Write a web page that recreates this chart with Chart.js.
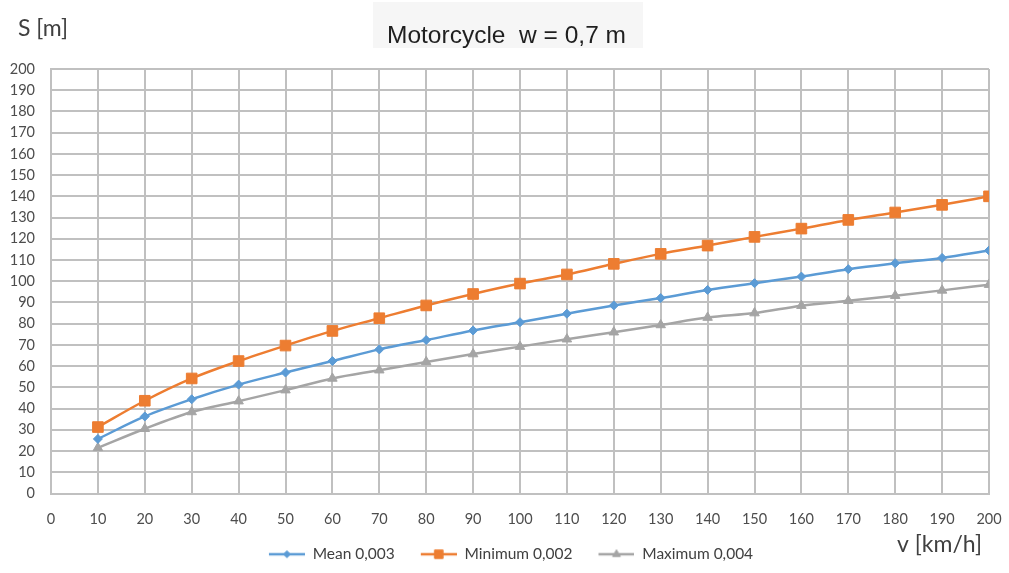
<!DOCTYPE html>
<html>
<head>
<meta charset="utf-8">
<title>Motorcycle w = 0,7 m</title>
<script src="https://cdn.jsdelivr.net/npm/chart.js@4/dist/chart.umd.min.js"></script>
<style>
  html, body { margin: 0; padding: 0; background: #ffffff; }
  #wrap { width: 1009px; height: 573px; position: relative; }
</style>
</head>
<body>
<div id="wrap"><canvas id="chart" width="1009" height="573"></canvas></div>
<script>
// Stopping distance S [m] against speed v [km/h]
const speeds = [10, 20, 30, 40, 50, 60, 70, 80, 90, 100, 110, 120, 130, 140, 150, 160, 170, 180, 190, 200];
const meanValues = [25.7, 36.3, 44.4, 51.3, 57.0, 62.4, 67.9, 72.3, 76.8, 80.7, 84.7, 88.6, 92.1, 95.9, 99.1, 102.2, 105.7, 108.5, 111.0, 114.5];
const minimumValues = [31.3, 43.7, 54.2, 62.4, 69.7, 76.6, 82.6, 88.6, 94.0, 98.9, 103.2, 108.2, 112.9, 116.8, 120.9, 124.8, 128.9, 132.4, 136.0, 140.0];
const maximumValues = [21.5, 30.5, 38.4, 43.5, 48.7, 54.2, 58.1, 62.0, 65.7, 69.2, 72.7, 76.0, 79.4, 82.9, 85.0, 88.5, 90.8, 93.2, 95.7, 98.4];
const seriesNames = ['Mean 0,003', 'Minimum 0,002', 'Maximum 0,004'];
const titleText = 'Motorcycle  w = 0,7 m';
const yAxisLabel = 'S [m]';
const xAxisLabel = 'v [km/h]';

const TICK_FONT = { family: 'Lato, "Liberation Sans", sans-serif', size: 14.5 };
const LABEL_COLOR = '#4d4d4d';
const GRID_COLOR = '#c0c0c0';

function toPoints(values) {
  return values.map((v, i) => ({ x: speeds[i], y: v }));
}

// Line-with-marker swatch for the legend; blank strip on the left widens item spacing
const SWATCH_GAP = 9;
const SWATCH_LINE = 36;
function legendSwatch(color, style, radius) {
  const c = document.createElement('canvas');
  c.width = SWATCH_GAP + SWATCH_LINE; c.height = 16;
  const ctx = c.getContext('2d');
  ctx.strokeStyle = color;
  ctx.lineWidth = 2.5;
  ctx.beginPath();
  ctx.moveTo(SWATCH_GAP, 8);
  ctx.lineTo(SWATCH_GAP + SWATCH_LINE, 8);
  ctx.stroke();
  ctx.fillStyle = color;
  ctx.strokeStyle = color;
  ctx.lineWidth = 1;
  Chart.helpers.drawPoint(ctx, { pointStyle: style, radius: radius, rotation: 0, borderWidth: 1 }, SWATCH_GAP + SWATCH_LINE / 2, 8);
  return c;
}

const seriesStyles = [
  { color: '#5b9bd5', point: 'rectRot', radius: 4.5, legendRadius: 3.5 },
  { color: '#ed7d31', point: 'rect', radius: 7.5, legendRadius: 6 },
  { color: '#a5a5a5', point: 'triangle', radius: 5.5, legendRadius: 4.5 }
];
const seriesValues = [meanValues, minimumValues, maximumValues];

const datasets = seriesValues.map((vals, i) => ({
  label: seriesNames[i],
  data: toPoints(vals),
  borderColor: seriesStyles[i].color,
  backgroundColor: seriesStyles[i].color,
  borderWidth: 2.5,
  pointStyle: seriesStyles[i].point,
  pointRadius: seriesStyles[i].radius,
  pointBorderWidth: 1,
  pointBackgroundColor: seriesStyles[i].color,
  pointBorderColor: seriesStyles[i].color,
  cubicInterpolationMode: 'monotone',
  fill: false
}));

// Title panel shading, the two axis captions, and a nudge that centres
// the title and legend a little right of the canvas middle
const decorations = {
  id: 'decorations',
  afterLayout(chart) {
    if (chart.titleBlock) { chart.titleBlock.left += 12; chart.titleBlock.right += 12; }
    if (chart.legend) { chart.legend.left += 12; chart.legend.right += 12; }
  },
  beforeDraw(chart) {
    const ctx = chart.ctx;
    ctx.save();
    ctx.fillStyle = '#f6f6f6';
    ctx.fillRect(373, 2, 270, 46);
    ctx.restore();
  },
  afterDraw(chart) {
    const ctx = chart.ctx;
    ctx.save();
    ctx.fillStyle = '#404040';
    ctx.font = '23px Lato, "Liberation Sans", sans-serif';
    ctx.textBaseline = 'middle';
    ctx.textAlign = 'left';
    ctx.fillText(yAxisLabel, 18, 29);
    ctx.textAlign = 'right';
    ctx.fillText(xAxisLabel, 982, 545);
    ctx.restore();
  }
};

new Chart(document.getElementById('chart'), {
  type: 'line',
  data: { datasets: datasets },
  plugins: [decorations],
  options: {
    responsive: false,
    animation: false,
    devicePixelRatio: 1,
    layout: { padding: { left: 0, right: 20, top: 0, bottom: 1 } },
    plugins: {
      title: {
        display: true,
        text: titleText,
        color: '#1f1f1f',
        font: { family: '"Liberation Sans", Arial, sans-serif', size: 24.5, weight: 'normal' },
        padding: { top: 22, bottom: 17.6 }
      },
      legend: {
        display: true,
        position: 'bottom',
        labels: {
          color: '#404040',
          font: { family: 'Lato, "Liberation Sans", sans-serif', size: 15.5 },
          usePointStyle: true,
          pointStyleWidth: SWATCH_GAP + SWATCH_LINE,
          padding: 17,
          generateLabels(chart) {
            return chart.data.datasets.map((ds, i) => ({
              text: ds.label,
              fillStyle: ds.borderColor,
              strokeStyle: ds.borderColor,
              fontColor: '#404040',
              lineWidth: 0,
              pointStyle: legendSwatch(ds.borderColor, seriesStyles[i].point, seriesStyles[i].legendRadius),
              hidden: false,
              datasetIndex: i
            }));
          }
        }
      },
      tooltip: { enabled: false }
    },
    scales: {
      x: {
        type: 'linear',
        min: 0,
        max: 200,
        afterFit(scale) { scale.height = 36; },
        ticks: { stepSize: 10, color: LABEL_COLOR, font: TICK_FONT, padding: 0, maxRotation: 0, autoSkip: false },
        grid: { color: GRID_COLOR, lineWidth: 2, drawTicks: true, tickLength: 17, tickColor: 'rgba(0,0,0,0)' },
        border: { display: true, color: GRID_COLOR, width: 2 }
      },
      y: {
        min: 0,
        max: 200,
        afterFit(scale) { scale.width = 51; },
        ticks: { stepSize: 10, color: LABEL_COLOR, font: TICK_FONT, padding: 16, autoSkip: false },
        grid: { color: GRID_COLOR, lineWidth: 2, drawTicks: false },
        border: { display: true, color: GRID_COLOR, width: 2 }
      }
    }
  }
});
</script>
</body>
</html>
